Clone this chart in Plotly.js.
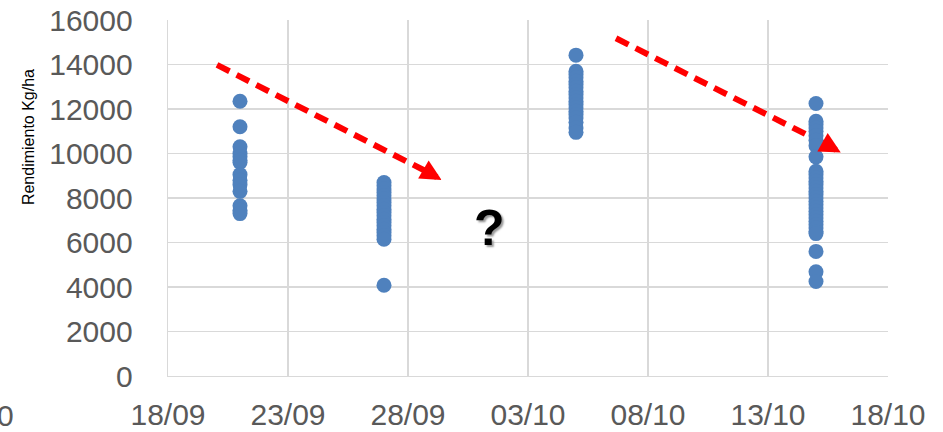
<!DOCTYPE html>
<html>
<head>
<meta charset="utf-8">
<script src="https://cdn.plot.ly/plotly-3.0.1.min.js"></script>
<style>html,body{margin:0;padding:0;background:#fff;}#chart{width:943px;height:432px;}</style>
</head>
<body>
<div id="chart"></div>
<script>
// Sowing dates and yields (Kg/ha)
const groupDates = ['2019-09-21', '2019-09-27', '2019-10-05', '2019-10-15'];
const yields21_09 = [12350, 11200, 10300, 10000, 9850, 9700, 9600, 9050, 8800, 8600, 8300, 7650, 7450, 7300];
const yields27_09 = [8700, 8550, 8400, 8250, 8100, 7950, 7800, 7650, 7500, 7350, 7200, 7050, 6900, 6750, 6600, 6450, 6300, 6150, 4080];
const yields05_10 = [14420, 13700, 13550, 13400, 13250, 13100, 12950, 12800, 12650, 12500, 12350, 12200, 12050, 11900, 11750, 11600, 11400, 11150, 10950];
const yields15_10 = [12250, 11450, 11300, 11150, 11000, 10800, 10600, 10350, 9850, 9200, 9050, 8900, 8750, 8600, 8450, 8300, 8150, 8000, 7850, 7700, 7550, 7400, 7250, 7100, 6950, 6800, 6650, 6500, 6400, 5600, 4680, 4250];
const allYields = [yields21_09, yields27_09, yields05_10, yields15_10];

// Trend arrows: [start, shaft end, tip]
const arrow1X = ['2019-09-20 01:00', '2019-09-28 22:00', '2019-09-29 09:36'];
const arrow1Y = [13980, 9110, 8810];
const arrow2X = ['2019-10-06 16:00', '2019-10-15 13:00', '2019-10-16 00:45'];
const arrow2Y = [15180, 10340, 10040];

const questionX = '2019-10-01 09:00';
const questionY = 6650;

const xTickStart = '2019-09-18';
const xRange = ['2019-09-18', '2019-10-18'];
const yTicks = [0, 2000, 4000, 6000, 8000, 10000, 12000, 14000, 16000];

const xs = [], ys = [];
allYields.forEach((arr, i) => arr.forEach(v => { xs.push(groupDates[i]); ys.push(v); }));

const tickFont = {family: '"Liberation Sans Narrow", "Liberation Sans", Arial, sans-serif', size: 30, color: '#595959'};

const traces = [
  {x: arrow1X.slice(0, 2), y: arrow1Y.slice(0, 2), mode: 'lines', type: 'scatter',
   line: {color: '#ff0000', width: 6, dash: '14px,8px'}, hoverinfo: 'skip', showlegend: false},
  {x: arrow2X.slice(0, 2), y: arrow2Y.slice(0, 2), mode: 'lines', type: 'scatter',
   line: {color: '#ff0000', width: 6, dash: '14px,8px'}, hoverinfo: 'skip', showlegend: false},
  {x: xs, y: ys, mode: 'markers', type: 'scatter',
   marker: {color: '#4f81bd', size: 15}, showlegend: false}
];

const annotations = [
  {x: arrow1X[2], y: arrow1Y[2], ax: arrow1X[1], ay: arrow1Y[1], axref: 'x', ayref: 'y',
   xref: 'x', yref: 'y', showarrow: true, arrowhead: 2, arrowsize: 0.7, arrowwidth: 6,
   arrowcolor: '#ff0000', text: ''},
  {x: arrow2X[2], y: arrow2Y[2], ax: arrow2X[1], ay: arrow2Y[1], axref: 'x', ayref: 'y',
   xref: 'x', yref: 'y', showarrow: true, arrowhead: 2, arrowsize: 0.7, arrowwidth: 6,
   arrowcolor: '#ff0000', text: ''},
  {x: questionX, y: questionY, xref: 'x', yref: 'y', showarrow: false, text: '?',
   font: {family: '"Liberation Sans", Arial, sans-serif', size: 50, color: '#000', weight: 'bold',
          shadow: '2px 2px 2px #999'}},
  {x: -0.226, y: -0.11, xref: 'paper', yref: 'paper', showarrow: false, text: '0',
   xanchor: 'center', yanchor: 'middle', font: tickFont},
  {x: -0.194, y: 0.672, xref: 'paper', yref: 'paper', showarrow: false, text: 'Rendimiento Kg/ha',
   textangle: -90, xanchor: 'center', yanchor: 'middle',
   font: {family: '"Liberation Sans", Arial, sans-serif', size: 16, color: '#000'}}
];

const layout = {
  width: 943, height: 432,
  margin: {l: 168, r: 55, t: 20, b: 56},
  paper_bgcolor: '#fff', plot_bgcolor: '#fff',
  showlegend: false,
  xaxis: {type: 'date', range: xRange, tick0: xTickStart, dtick: 5 * 86400000,
          tickformat: '%d/%m', showgrid: true, gridcolor: '#d9d9d9', gridwidth: 1.3,
          showline: true, linecolor: '#d9d9d9', linewidth: 1.3, zeroline: false,
          ticks: '', tickfont: tickFont, ticklabelstandoff: 12, mirror: false},
  yaxis: {range: [0, 16000], tickvals: yTicks, ticktext: yTicks.map(String),
          showgrid: true, gridcolor: '#d9d9d9', gridwidth: 1.3,
          showline: true, linecolor: '#d9d9d9', linewidth: 1.3, zeroline: false,
          ticks: '', tickfont: tickFont, ticklabelstandoff: 28},
  annotations: annotations
};

Plotly.newPlot('chart', traces, layout, {displayModeBar: false, staticPlot: true});
</script>
</body>
</html>
